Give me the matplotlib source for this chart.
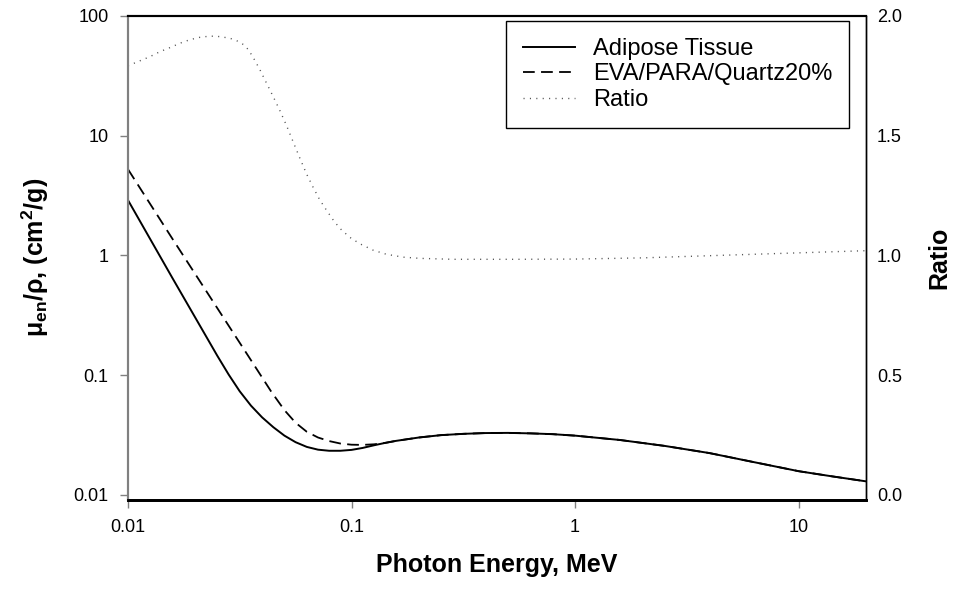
import matplotlib
matplotlib.use("Agg")
import matplotlib.pyplot as plt
from matplotlib.ticker import FixedLocator, FuncFormatter, NullLocator

plt.rcParams["font.family"] = ["Liberation Sans", "DejaVu Sans"]
plt.rcParams["mathtext.fontset"] = "custom"
plt.rcParams["mathtext.rm"] = "Liberation Sans:bold"
plt.rcParams["mathtext.it"] = "Liberation Sans:bold"
plt.rcParams["mathtext.bf"] = "Liberation Sans:bold"

# Adipose tissue, mu_en/rho (cm2/g)
adipose_energy = [0.01, 0.0158, 0.0251, 0.0282, 0.0316, 0.0355, 0.0398, 0.0447,
                  0.0501, 0.0562, 0.0631, 0.0708, 0.0794, 0.0891, 0.1, 0.112, 0.126,
                  0.141, 0.158, 0.2, 0.251, 0.316, 0.398, 0.501, 0.631, 0.794, 1.0,
                  1.585, 2.512, 3.981, 6.31, 10.0, 14.13, 20.0]
adipose_mu = [2.90, 0.649, 0.1453, 0.1014, 0.0735, 0.0557, 0.0445, 0.0368,
              0.0313, 0.0276, 0.0252, 0.0239, 0.0234, 0.0234, 0.0238, 0.0247, 0.0260,
              0.0272, 0.0283, 0.0302, 0.0316, 0.0324, 0.0329, 0.0330, 0.0327, 0.0322,
              0.0313, 0.0288, 0.0257, 0.0224, 0.0188, 0.0158, 0.0143, 0.0130]

# EVA/PARA/Quartz20%
eva_energy = [0.01, 0.0158, 0.0251, 0.0347, 0.0437, 0.0501, 0.0562, 0.0631, 0.0708,
              0.0794, 0.0891, 0.1, 0.112, 0.126, 0.141, 0.158, 0.2, 0.251, 0.316,
              0.398, 0.501, 0.631, 0.794, 1.0, 1.585, 2.512, 3.981, 6.31, 10.0,
              14.13, 20.0]
eva_mu = [5.25, 1.38, 0.363, 0.1426, 0.0731, 0.0511, 0.0401, 0.0337, 0.0302,
          0.0282, 0.0269, 0.0263, 0.0262, 0.0265, 0.0272, 0.0283, 0.0302, 0.0316,
          0.0324, 0.0329, 0.0330, 0.0327, 0.0322, 0.0313, 0.0288, 0.0257, 0.0224,
          0.0188, 0.0158, 0.0143, 0.0130]

# Ratio (right axis)
ratio_energy = [0.01, 0.01132, 0.01253, 0.0139, 0.01542, 0.01706, 0.01892, 0.02099,
                0.02328, 0.02576, 0.02858, 0.03062, 0.03281, 0.03451, 0.03631,
                0.0389, 0.04093, 0.04315, 0.04539, 0.04775, 0.05117, 0.05483,
                0.05875, 0.06295, 0.0673, 0.07211, 0.07727, 0.0828, 0.08872,
                0.09817, 0.1089, 0.125, 0.1432, 0.1702, 0.2018, 0.2844, 0.547,
                1.0, 2.0, 5.0, 10.0, 20.0]
ratio = [1.792, 1.813, 1.830, 1.851, 1.868, 1.886, 1.901, 1.911,
         1.916, 1.914, 1.907, 1.897, 1.881, 1.860, 1.827,
         1.776, 1.734, 1.691, 1.649, 1.606, 1.543, 1.474,
         1.406, 1.340, 1.285, 1.232, 1.189, 1.148, 1.113,
         1.076, 1.049, 1.022, 1.005, 0.993, 0.988, 0.984, 0.984,
         0.985, 0.990, 1.002, 1.011, 1.02]

left_ticks = [0.01, 0.1, 1, 10, 100]
right_ticks = [0.0, 0.5, 1.0, 1.5, 2.0]
x_ticks = [0.01, 0.1, 1, 10]

TICK_FS = 13
LABEL_FS = 18

fig = plt.figure(figsize=(9.55, 5.92), dpi=100)
ax = fig.add_axes([0.134, 0.1554, 0.7728, 0.8176])
ax2 = ax.twinx()

l1, = ax.plot(adipose_energy, adipose_mu, color="black", lw=1.4, label="Adipose Tissue")
l2, = ax.plot(eva_energy, eva_mu, color="black", lw=1.3, linestyle=(0, (6.5, 3.5)),
              label="EVA/PARA/Quartz20%")
l3, = ax2.plot(ratio_energy, ratio, color="#555555", lw=1.0, linestyle=(0, (0.8, 3.8)),
               label="Ratio")

ax.set_xscale("log")
ax.set_yscale("log")
ax.set_xlim(0.01, 20)
ax.set_ylim(0.00908, 100)
ax2.set_ylim(-0.021, 2.0)

fmt = FuncFormatter(lambda v, p: f"{v:g}")
ax.xaxis.set_major_locator(FixedLocator(x_ticks))
ax.xaxis.set_major_formatter(fmt)
ax.xaxis.set_minor_locator(NullLocator())
ax.yaxis.set_major_locator(FixedLocator(left_ticks))
ax.yaxis.set_major_formatter(fmt)
ax.yaxis.set_minor_locator(NullLocator())
ax2.yaxis.set_major_locator(FixedLocator(right_ticks))
ax2.yaxis.set_major_formatter(FuncFormatter(lambda v, p: f"{v:.1f}"))

ax.tick_params(axis="both", direction="out", length=6, width=1, color="#808080",
               labelsize=TICK_FS, pad=8)
ax2.tick_params(axis="y", length=0, labelsize=TICK_FS, pad=8)

for a in (ax, ax2):
    a.spines["top"].set_linewidth(1.5)
    a.spines["bottom"].set_linewidth(2.0)
    a.spines["left"].set_linewidth(1.5)
    a.spines["left"].set_color("#808080")
    a.spines["right"].set_linewidth(1.0)

fig.text(0.52, 0.045, "Photon Energy, MeV", ha="center", va="center",
         fontsize=LABEL_FS, fontweight="bold")
fig.text(0.037, 0.565, r"$\mu_{en}/\rho$, (cm$^{2}$/g)", ha="center", va="center",
         rotation=90, fontsize=LABEL_FS, fontweight="bold")
fig.text(0.984, 0.565, "Ratio", ha="center", va="center", rotation=90,
         fontsize=LABEL_FS, fontweight="bold")

leg = ax.legend(handles=[l1, l2, l3], loc="upper right", bbox_to_anchor=(0.977, 0.99),
                borderaxespad=0, fancybox=False, edgecolor="black", framealpha=1,
                fontsize=17, handlelength=2.2, handletextpad=0.75, labelspacing=0.15,
                borderpad=0.72)
leg.get_frame().set_linewidth(1.0)
leg.set_zorder(5)

fig.savefig("out.png", dpi=100, facecolor="white")
